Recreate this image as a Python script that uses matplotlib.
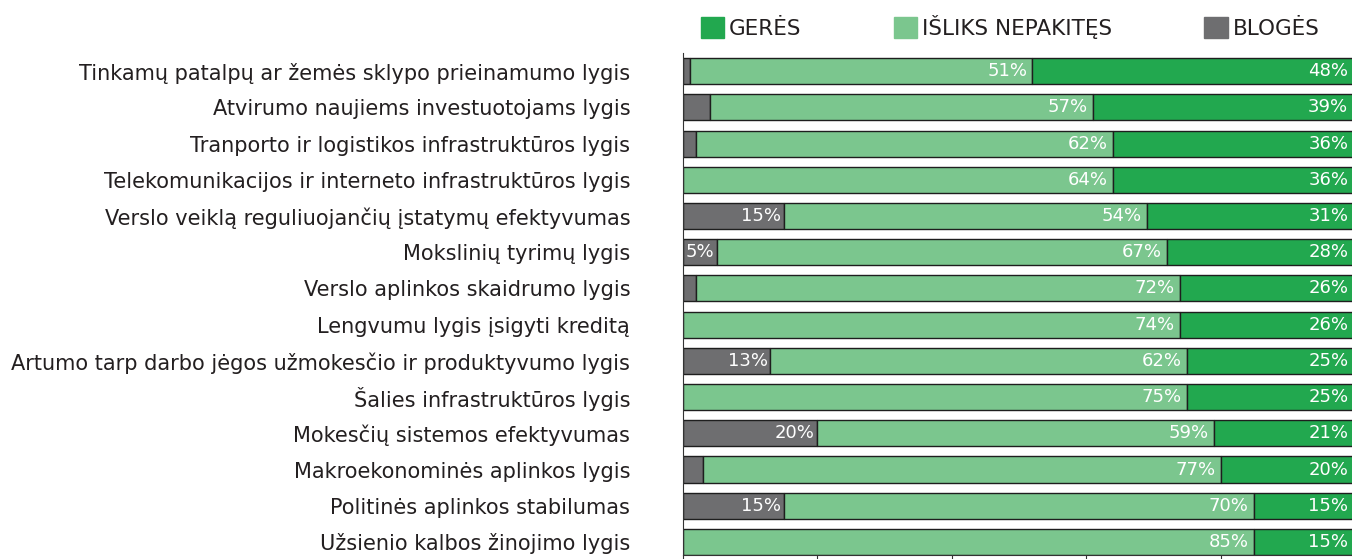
import matplotlib
matplotlib.use("Agg")
import matplotlib.pyplot as plt
from matplotlib.patches import Patch

plt.rcParams['font.family'] = ['DejaVu Sans']

categories = [
    "Tinkamų patalpų ar žemės sklypo prieinamumo lygis",
    "Atvirumo naujiems investuotojams lygis",
    "Tranporto ir logistikos infrastruktūros lygis",
    "Telekomunikacijos ir interneto infrastruktūros lygis",
    "Verslo veiklą reguliuojančių įstatymų efektyvumas",
    "Mokslinių tyrimų lygis",
    "Verslo aplinkos skaidrumo lygis",
    "Lengvumu lygis įsigyti kreditą",
    "Artumo tarp darbo jėgos užmokesčio ir produktyvumo lygis",
    "Šalies infrastruktūros lygis",
    "Mokesčių sistemos efektyvumas",
    "Makroekonominės aplinkos lygis",
    "Politinės aplinkos stabilumas",
    "Užsienio kalbos žinojimo lygis",
]
blogés = [1, 4, 2, 0, 15, 5, 2, 0, 13, 0, 20, 3, 15, 0]
nepakites = [51, 57, 62, 64, 54, 67, 72, 74, 62, 75, 59, 77, 70, 85]
geres = [48, 39, 36, 36, 31, 28, 26, 26, 25, 25, 21, 20, 15, 15]

c_bad = "#6e6e70"
c_same = "#7bc68e"
c_good = "#22a84f"

fig = plt.figure(figsize=(13.52, 5.59), dpi=100)
ax = fig.add_axes([683 / 1352, 4 / 559, 672 / 1352, 502 / 559])

y = list(range(len(categories)))
left_same = blogés
left_good = [b + n for b, n in zip(blogés, nepakites)]
kw = dict(height=0.72, edgecolor="#1e1e1e", linewidth=1.0)
ax.barh(y, blogés, color=c_bad, **kw)
ax.barh(y, nepakites, left=left_same, color=c_same, **kw)
ax.barh(y, geres, left=left_good, color=c_good, **kw)

# labels sit just inside the right end of each segment
for i in y:
    if blogés[i] >= 5:
        ax.text(blogés[i] - 0.4, i, f"{blogés[i]}%", ha="right", va="center",
                color="white", fontsize=13)
    ax.text(left_good[i] - 0.8, i, f"{nepakites[i]}%", ha="right", va="center",
            color="white", fontsize=13)
    ax.text(left_good[i] + geres[i] - 1.0, i, f"{geres[i]}%", ha="right",
            va="center", color="white", fontsize=13)

ax.set_xlim(0, 100)
ax.set_ylim(13.36, -0.5)
ax.set_yticks(y)
ax.set_yticklabels(categories, fontsize=15, color="#231f20")
ax.tick_params(axis="y", length=0, pad=38)
ax.set_xticks([0, 20, 40, 60, 80, 100])
ax.set_xticklabels([])
ax.tick_params(axis="x", length=8, direction="out", color="#333333")
for s in ["top", "right"]:
    ax.spines[s].set_visible(False)
ax.spines["left"].set_color("#333333")
ax.spines["bottom"].set_color("#333333")

handles = [Patch(color=c_good), Patch(color=c_same), Patch(color=c_bad)]
fig.legend(handles, ["GERĖS", "IŠLIKS NEPAKITĘS", "BLOGĖS"], ncol=3,
           loc="center", bbox_to_anchor=(1010 / 1352, 1 - 27 / 559),
           frameon=False, fontsize=15.5, handlelength=1.1, handleheight=1.1,
           handletextpad=0.2, columnspacing=4.3, labelcolor="#231f20")

fig.savefig("out.png", dpi=100)
